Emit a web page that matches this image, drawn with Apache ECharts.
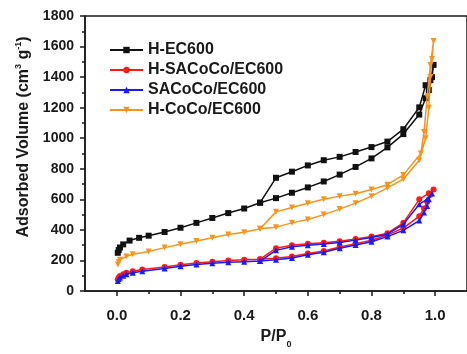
<!DOCTYPE html>
<html>
<head>
<meta charset="utf-8">
<script src="https://cdn.jsdelivr.net/npm/echarts@6/dist/echarts.min.js"></script>
<style>
  html, body { margin: 0; padding: 0; background: #fff; }
  #chart { width: 467px; height: 354px; }
</style>
</head>
<body>
<div id="chart"></div>
<script>
// N2 sorption isotherms: each series runs along the adsorption branch, then back down the desorption branch.
const seriesNames = ['H-EC600', 'H-SACoCo/EC600', 'SACoCo/EC600', 'H-CoCo/EC600'];

const hEc600P = [0.003, 0.006, 0.01, 0.02, 0.04, 0.07, 0.1, 0.15, 0.2, 0.25, 0.3, 0.35, 0.4, 0.45, 0.5, 0.55, 0.6, 0.65, 0.7, 0.75, 0.8, 0.85, 0.9, 0.95, 0.97, 0.98, 0.99, 0.995,
                 0.985, 0.97, 0.95, 0.9, 0.85, 0.8, 0.75, 0.7, 0.65, 0.6, 0.55, 0.5, 0.45];
const hEc600V = [250, 268, 285, 305, 330, 348, 362, 386, 414, 446, 478, 510, 540, 578, 608, 643, 678, 717, 762, 812, 868, 940, 1027, 1155, 1262, 1315, 1400, 1480,
                 1380, 1347, 1202, 1059, 978, 942, 910, 878, 856, 822, 781, 741, 578];

const hSaCoCoP = [0.003, 0.006, 0.01, 0.02, 0.03, 0.05, 0.08, 0.15, 0.2, 0.25, 0.3, 0.35, 0.4, 0.45, 0.5, 0.55, 0.6, 0.65, 0.7, 0.75, 0.8, 0.85, 0.9, 0.95, 0.965, 0.975, 0.985, 0.995,
                  0.98, 0.95, 0.9, 0.85, 0.8, 0.75, 0.7, 0.65, 0.6, 0.55, 0.5, 0.45];
const hSaCoCoV = [76, 88, 98, 110, 120, 130, 140, 157, 172, 183, 192, 200, 204, 208, 214, 226, 246, 262, 288, 310, 332, 366, 412, 490, 540, 585, 630, 664,
                  640, 600, 446, 378, 356, 340, 326, 316, 309, 300, 280, 208];

const saCoCoP = [0.003, 0.006, 0.01, 0.02, 0.03, 0.05, 0.08, 0.15, 0.2, 0.25, 0.3, 0.35, 0.4, 0.45, 0.5, 0.55, 0.6, 0.65, 0.7, 0.75, 0.8, 0.85, 0.9, 0.95, 0.965, 0.975, 0.98, 0.99,
                 0.975, 0.95, 0.9, 0.85, 0.8, 0.75, 0.7, 0.65, 0.6, 0.55, 0.5, 0.45];
const saCoCoV = [66, 78, 88, 100, 109, 120, 130, 147, 162, 173, 181, 188, 192, 196, 204, 216, 237, 253, 280, 301, 322, 356, 397, 461, 514, 557, 600, 638,
                 600, 568, 436, 372, 350, 333, 318, 307, 300, 290, 266, 196];

const hCoCoP = [0.003, 0.006, 0.01, 0.03, 0.05, 0.1, 0.15, 0.2, 0.25, 0.3, 0.35, 0.4, 0.45, 0.5, 0.55, 0.6, 0.65, 0.7, 0.75, 0.8, 0.85, 0.9, 0.95, 0.97, 0.98, 0.985, 0.99, 0.995,
                0.985, 0.975, 0.965, 0.955, 0.9, 0.85, 0.8, 0.75, 0.7, 0.65, 0.6, 0.55, 0.5, 0.45];
const hCoCoV = [173, 190, 205, 226, 240, 258, 284, 306, 327, 348, 370, 385, 408, 418, 446, 468, 500, 536, 575, 621, 675, 732, 856, 1000, 1200, 1400, 1518, 1636,
                1480, 1273, 1040, 900, 760, 696, 664, 636, 621, 600, 575, 546, 518, 408];

const xTickValues = [0.0, 0.2, 0.4, 0.6, 0.8, 1.0];
const xMinorValues = [0.1, 0.3, 0.5, 0.7, 0.9];

const colors = ['#111111', '#ff1a1a', '#1a1aff', '#f7941d'];
const symbols = ['rect', 'circle', 'triangle', 'triangle'];
const rotations = [0, 0, 0, 180];

function pairs(p, v) { return p.map((x, i) => [x, v[i]]); }
const seriesData = [pairs(hEc600P, hEc600V), pairs(hSaCoCoP, hSaCoCoV), pairs(saCoCoP, saCoCoV), pairs(hCoCoP, hCoCoV)];

const FONT = 'Arial, "Liberation Sans", sans-serif';
const axisColor = '#1a1a1a';

const chart = echarts.init(document.getElementById('chart'), null, { renderer: 'canvas' });
chart.setOption({
  animation: false,
  backgroundColor: '#ffffff',
  grid: { left: 85, top: 16, width: 385, height: 281, show: true, borderColor: axisColor, borderWidth: 1.5, backgroundColor: 'transparent' },
  legend: {
    orient: 'vertical', left: 104, top: 37, itemGap: 4, itemWidth: 33, itemHeight: 8,
    textStyle: { fontFamily: FONT, fontWeight: 'bold', fontSize: 16, color: '#1a1a1a' },
    data: seriesNames
  },
  xAxis: [{
    type: 'value', min: -0.1, max: 1.1,
    name: '{m|P/P}{s|0}', nameLocation: 'middle', nameGap: 38,
    nameTextStyle: { rich: {
      m: { fontFamily: FONT, fontWeight: 'bold', fontSize: 16, color: '#1a1a1a', lineHeight: 20, verticalAlign: 'top' },
      s: { fontFamily: FONT, fontWeight: 'bold', fontSize: 9, color: '#1a1a1a', lineHeight: 20, verticalAlign: 'bottom' }
    } },
    splitLine: { show: false },
    axisLine: { show: true, onZero: false, lineStyle: { color: axisColor, width: 1.5 } },
    axisTick: { show: true, inside: false, length: 5, customValues: xTickValues, lineStyle: { color: axisColor, width: 1.5 } },
    axisLabel: { customValues: xTickValues, margin: 17, fontFamily: FONT, fontWeight: 'bold', fontSize: 15, color: '#1a1a1a',
                 formatter: v => v.toFixed(1) }
  }, {
    type: 'value', min: -0.1, max: 1.1, position: 'bottom', gridIndex: 0,
    splitLine: { show: false },
    axisLine: { show: false, onZero: false },
    axisTick: { show: true, inside: false, length: 3, customValues: xMinorValues, lineStyle: { color: axisColor, width: 1.5 } },
    axisLabel: { show: false }
  }],
  yAxis: {
    type: 'value', min: 0, max: 1800, interval: 200,
    name: '{t|Adsorbed Volume (cm}{s|3}{t| g}{s|-1}{t|)}', nameLocation: 'middle', nameGap: 52,
    nameTextStyle: { padding: [0, 0, 0, 33], rich: {
      t: { fontFamily: FONT, fontWeight: 'bold', fontSize: 16, color: '#1a1a1a', lineHeight: 18, verticalAlign: 'bottom' },
      s: { fontFamily: FONT, fontWeight: 'bold', fontSize: 9, color: '#1a1a1a', lineHeight: 18, verticalAlign: 'top' }
    } },
    splitLine: { show: false },
    axisLine: { show: true, onZero: false, lineStyle: { color: axisColor, width: 1.5 } },
    axisTick: { show: true, inside: false, length: 5, lineStyle: { color: axisColor, width: 1.5 } },
    minorTick: { show: true, splitNumber: 2, length: 3, lineStyle: { color: axisColor, width: 1.5 } },
    axisLabel: { margin: 11, fontFamily: FONT, fontWeight: 'bold', fontSize: 14, color: '#1a1a1a',
                 formatter: v => String(v) }
  },
  series: seriesNames.map((name, i) => ({
    name: name, type: 'line', data: seriesData[i],
    symbol: symbols[i], symbolRotate: rotations[i], symbolSize: 6,
    showAllSymbol: true,
    lineStyle: { color: colors[i], width: 1.5 },
    itemStyle: { color: colors[i] },
    z: 2 + i
  }))
});
</script>
</body>
</html>
